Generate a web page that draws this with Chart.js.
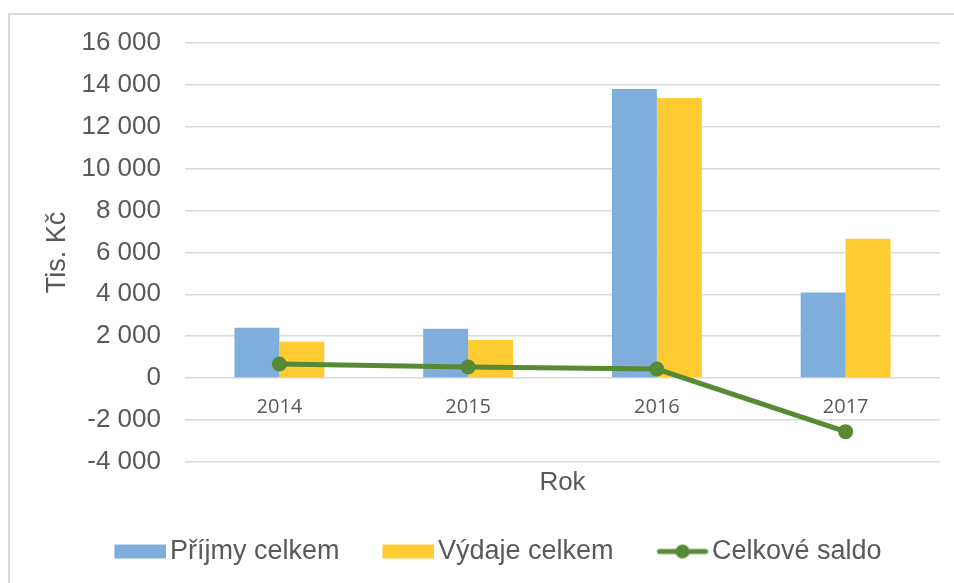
<!DOCTYPE html>
<html>
<head>
<meta charset="utf-8">
<script src="https://cdn.jsdelivr.net/npm/chart.js@4"></script>
<style>
	body { margin: 0; background: #fff; }
	#frame { position: absolute; left: 8px; top: 13px; width: 960px; height: 600px; border-top: 2px solid #d9d9d9; border-left: 2px solid #d9d9d9; }
	#wrap { position: absolute; left: 0; top: 0; width: 954px; height: 583px; }
</style>
</head>
<body>
<div id="frame"></div>
<div id="wrap"><canvas id="chartcanvas"></canvas></div>
<script>
const years = ['2014', '2015', '2016', '2017'];
const prijmy = [2400, 2350, 13800, 4090];
const vydaje = [1730, 1820, 13370, 6650];
const saldo = [670, 530, 430, -2560];

const textColor = '#595959';
const fontFamily = "'Liberation Sans', Arial, sans-serif";
const blue = '#7faedd';
const yellow = '#ffcb32';
const green = '#578a35';

Chart.defaults.color = textColor;
Chart.defaults.font.family = fontFamily;

// legend icons, the mark sits at the right part of the image (25..77)
function makeIcon(kind, color){
	const c = document.createElement('canvas');
	c.width = 77;
	c.height = 16;
	const g = c.getContext('2d');
	g.fillStyle = color;
	if(kind === 'rect'){
		g.fillRect(25, 1, 52, 14);
	} else {
		g.strokeStyle = color;
		g.lineWidth = 5;
		g.lineCap = 'round';
		g.beginPath();
		g.moveTo(28, 8);
		g.lineTo(74, 8);
		g.stroke();
		g.beginPath();
		g.arc(51, 8, 7, 0, Math.PI * 2);
		g.fill();
	}
	return c;
}
const icons = [makeIcon('rect', blue), makeIcon('rect', yellow), makeIcon('line', green)];

function fmt(v){
	return String(v).replace(/\B(?=(\d{3})+(?!\d))/g, ' ');
}

new Chart(document.getElementById('chartcanvas'), {
	type: 'bar',
	data: {
		labels: years,
		datasets: [
			{
				label: 'Příjmy celkem',
				data: prijmy,
				backgroundColor: blue,
				categoryPercentage: 0.476,
				barPercentage: 1,
				order: 1
			},
			{
				label: 'Výdaje celkem',
				data: vydaje,
				backgroundColor: yellow,
				categoryPercentage: 0.476,
				barPercentage: 1,
				order: 2
			},
			{
				type: 'line',
				label: 'Celkové saldo',
				data: saldo,
				borderColor: green,
				backgroundColor: green,
				borderWidth: 5,
				pointRadius: 7.5,
				pointHoverRadius: 7.5,
				pointBackgroundColor: green,
				pointBorderWidth: 0,
				order: 0
			}
		]
	},
	options: {
		responsive: true,
		maintainAspectRatio: false,
		animation: false,
		layout: {
			padding: { left: 41, right: 14, top: 43, bottom: 8 }
		},
		plugins: {
			tooltip: { enabled: false },
			legend: {
				position: 'bottom',
				labels: {
					usePointStyle: true,
					pointStyleWidth: 57,
					boxHeight: 14,
					padding: 28,
					color: textColor,
					font: { size: 27, family: fontFamily },
					sort: function(a, b){ return a.datasetIndex - b.datasetIndex; },
					generateLabels: function(chart){
						const items = Chart.defaults.plugins.legend.labels.generateLabels(chart);
						items.forEach(function(item){
							item.pointStyle = icons[item.datasetIndex];
						});
						return items;
					}
				}
			}
		},
		scales: {
			x: {
				position: { y: 0 },
				grid: { display: false, drawTicks: false },
				border: { display: false },
				ticks: {
					padding: 17,
					color: textColor,
					font: { size: 20, family: "'Open Sans', sans-serif" }
				}
			},
			x2: {
				type: 'category',
				labels: years,
				position: 'bottom',
				grid: { display: false, drawTicks: false },
				border: { display: false },
				ticks: { display: false },
				title: {
					display: true,
					text: 'Rok',
					color: textColor,
					padding: { top: 5, bottom: 12 },
					font: { size: 26, family: fontFamily }
				}
			},
			y: {
				min: -4000,
				max: 16000,
				afterFit: function(scale){ scale.width = 144; },
				grid: { color: '#d9d9d9', lineWidth: 1.5, drawTicks: false },
				border: { display: false },
				ticks: {
					stepSize: 2000,
					padding: 24,
					color: textColor,
					font: { size: 26, family: fontFamily },
					callback: function(value){ return fmt(value); }
				},
				title: {
					display: true,
					text: 'Tis. Kč',
					color: textColor,
					padding: { top: 0, bottom: 0 },
					font: { size: 27, family: fontFamily }
				}
			}
		}
	}
});
</script>
</body>
</html>
